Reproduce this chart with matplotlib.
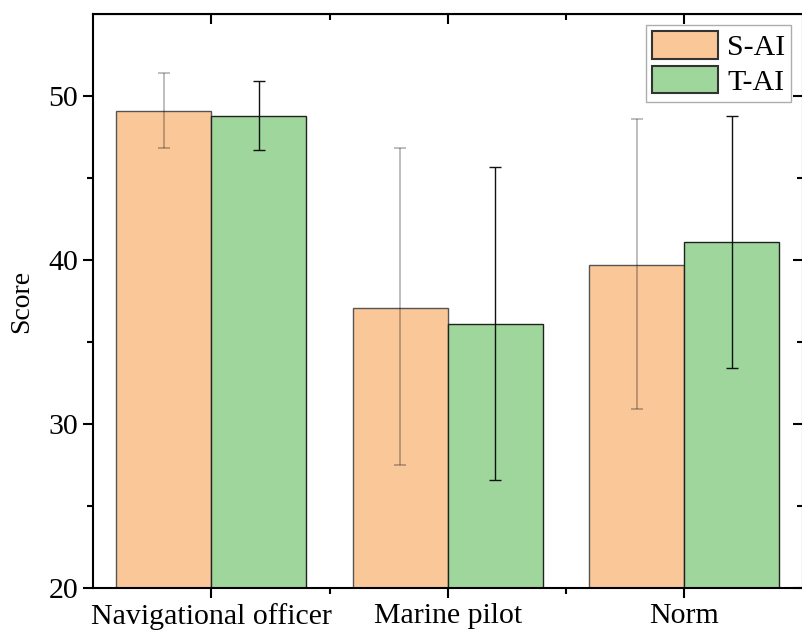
import matplotlib
matplotlib.use("Agg")
import matplotlib.pyplot as plt
import numpy as np
from matplotlib.ticker import FixedLocator

plt.rcParams["font.family"] = ["Liberation Serif", "DejaVu Serif"]

# ---- Daten ----
categories = ["Navigational officer", "Marine pilot", "Norm"]
series_names = ["S-AI", "T-AI"]
s_ai_mean = [49.1, 37.1, 39.7]
s_ai_err_hi = [51.4, 46.8, 48.6]
s_ai_err_lo = [46.8, 27.5, 30.9]
t_ai_mean = [48.8, 36.1, 41.1]
t_ai_err_hi = [50.9, 45.7, 48.8]
t_ai_err_lo = [46.7, 26.6, 33.4]

# ---- Stil ----
COL_S = "#FAC898"
COL_T = "#9ED69B"
BAR_W = 0.402
FS = 21.5

fig = plt.figure(figsize=(8.02, 6.37), dpi=100)
ax = fig.add_axes([93 / 802, 1 - 588 / 637, (802.5 - 93) / 802, (588 - 14) / 637])

x = np.arange(len(categories))
s_mean = np.array(s_ai_mean)
t_mean = np.array(t_ai_mean)
s_yerr = [s_mean - np.array(s_ai_err_lo), np.array(s_ai_err_hi) - s_mean]
t_yerr = [t_mean - np.array(t_ai_err_lo), np.array(t_ai_err_hi) - t_mean]

ax.bar(x - BAR_W / 2, s_mean - 20, BAR_W, bottom=20, color=COL_S,
       edgecolor="#555555", linewidth=1.0, label=series_names[0], zorder=2)
ax.bar(x + BAR_W / 2, t_mean - 20, BAR_W, bottom=20, color=COL_T,
       edgecolor="#222222", linewidth=1.0, label=series_names[1], zorder=2)

ax.errorbar(x - BAR_W / 2, s_mean, yerr=s_yerr, fmt="none", ecolor="black",
            alpha=0.3, elinewidth=1.2, capsize=4, capthick=1.2, zorder=3)
ax.errorbar(x + BAR_W / 2, t_mean, yerr=t_yerr, fmt="none", ecolor="#111111",
            elinewidth=1.0, capsize=4, capthick=1.0, zorder=3)

ax.set_xlim(-0.5, 2.5)
ax.set_ylim(20, 55)
ax.set_xticks(x)
ax.set_xticklabels(categories)
ax.xaxis.set_minor_locator(FixedLocator([0.5, 1.5]))
ax.yaxis.set_major_locator(FixedLocator([20, 30, 40, 50]))
ax.yaxis.set_minor_locator(FixedLocator([25, 35, 45]))
ax.set_ylabel("Score", fontsize=20)
ax.yaxis.set_label_coords(-0.083, 0.5)

ax.tick_params(which="major", direction="out", length=7, width=1.5, labelsize=FS)
ax.tick_params(which="minor", direction="out", length=4, width=1.5)
for sp in ax.spines.values():
    sp.set_linewidth(1.5)

# obere/rechte Achse mit Ticks nach innen
top = ax.secondary_xaxis("top")
top.set_xticks(x)
top.xaxis.set_minor_locator(FixedLocator([0.5, 1.5]))
top.tick_params(which="major", direction="in", length=7, width=1.5, labeltop=False)
top.tick_params(which="minor", direction="in", length=4, width=1.5)
right = ax.secondary_yaxis("right")
right.yaxis.set_major_locator(FixedLocator([20, 30, 40, 50]))
right.yaxis.set_minor_locator(FixedLocator([25, 35, 45]))
right.tick_params(which="major", direction="in", length=7, width=1.5, labelright=False)
right.tick_params(which="minor", direction="in", length=4, width=1.5)

leg = ax.legend(loc="upper right", fontsize=FS, frameon=True, fancybox=False,
                edgecolor="#999999", handlelength=2.2, handleheight=1.04,
                handletextpad=0.3, borderpad=0.2, labelspacing=0.15,
                borderaxespad=0.38)
leg.get_frame().set_linewidth(1.0)
for h in leg.legend_handles:
    h.set_edgecolor("#333333")
    h.set_linewidth(1.5)

fig.savefig("out.png", dpi=100)
